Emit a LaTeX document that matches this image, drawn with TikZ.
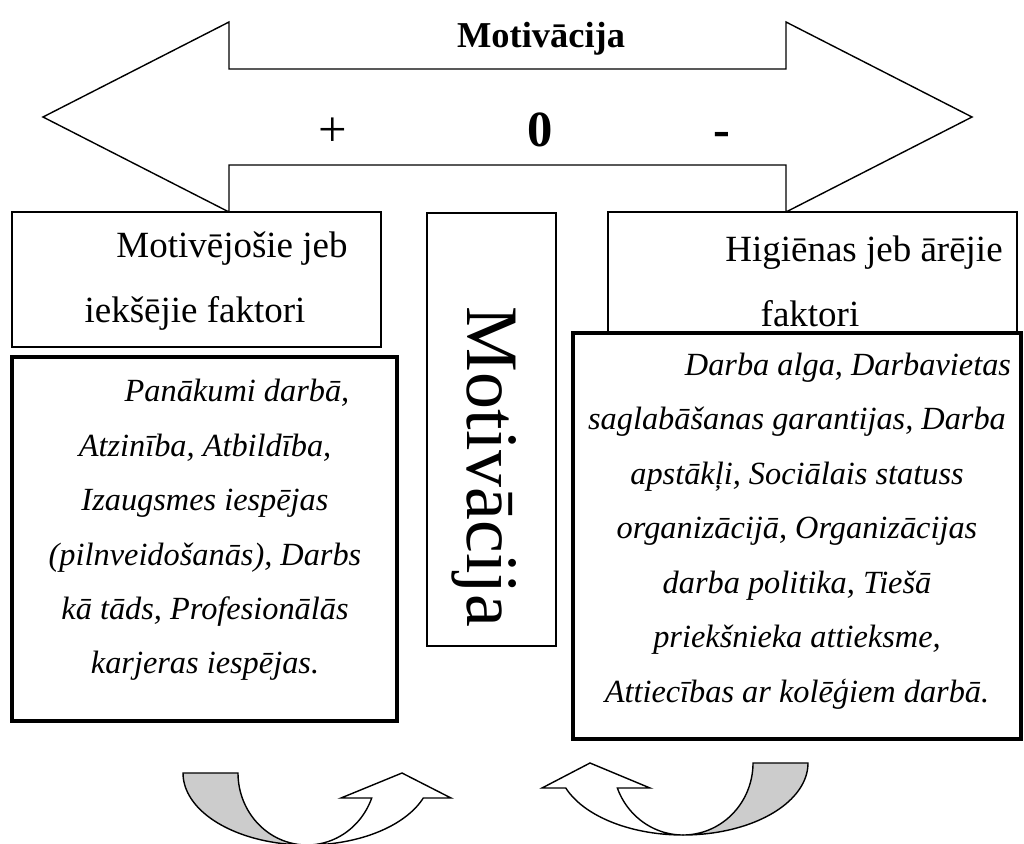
\documentclass[tikz,border=0pt]{standalone}
\usepackage{fontspec}
\setmainfont{Liberation Serif}
\usepackage{xcolor}
\usepackage{tikz}
\definecolor{band}{HTML}{CCCCCC}
\tikzset{
  thinbox/.style={draw, line width=1pt, fill=white},
  thickbox/.style={draw, line width=2.85pt, fill=white},
  blockarrow/.style={draw, line width=1pt, fill=white, line join=miter},
  backband/.style={draw, line width=1pt, fill=band},
  headtext/.style={align=center, font=\fontsize{26.3}{46.2}\selectfont},
  listtext/.style={align=center, font=\fontsize{23}{38.7}\selectfont\itshape},
  signtext/.style={anchor=base, font=\fontsize{36}{40}\selectfont}
}

\begin{document}
\begin{tikzpicture}[x=0.025cm, y=-0.025cm]
  \useasboundingbox (0,0) rectangle (1024,843);
  \draw[blockarrow] (43,117) -- (229,22) -- (229,69) -- (786,69) -- (786,22) -- (972,117)
    -- (786,212) -- (786,165) -- (229,165) -- (229,212) -- cycle;
  \node[anchor=base, font=\fontsize{25.9}{30}\selectfont\bfseries] (title) at (541,47) {Motivācija};
  \node[signtext] (plus) at (333,146) {+};
  \node[signtext, font=\fontsize{36}{40}\selectfont\bfseries] (zero) at (540,146) {0};
  \node[signtext, font=\fontsize{36}{40}\selectfont\bfseries] (minus) at (722,146) {-};

  \draw[thinbox] (12,212) rectangle (381,347);
  \draw[thinbox] (608,212) rectangle (1017,347);
  \draw[thinbox] (427,213) rectangle (556,646);
  \node[headtext] (intrin) at (195,281) {\hspace*{1.85cm}Motivējošie jeb\\iekšējie faktori};
  \node[headtext] (extrin) at (810,281) {\hspace*{2.7cm}Higiēnas jeb ārējie\\faktori};
  \node[anchor=base, rotate=-90, font=\fontsize{52.6}{60}\selectfont] (vert) at (467,467) {Motivācija};

  \draw[thickbox] (12,357) rectangle (397,721);
  \draw[thickbox] (573,333) rectangle (1021,739);
  \node[listtext] (intrinlist) at (205,530) {\hspace*{1.6cm}Panākumi darbā,\\Atzinība, Atbildība,\\Izaugsmes iespējas\\(pilnveidošanās), Darbs\\kā tāds, Profesionālās\\karjeras iespējas.};
  \node[listtext] (extrinlist) at (797,531) {\hspace*{2.55cm}Darba alga, Darbavietas\\saglabāšanas garantijas, Darba\\apstākļi, Sociālais statuss\\organizācijā, Organizācijas\\darba politika, Tiešā\\priekšnieka attieksme,\\Attiecības ar kolēģiem darbā.};

  \draw[backband] plot[domain=180:90, samples=40] ({307+124*cos(\x)},{773+72*sin(\x)})
    -- plot[domain=90:180, samples=40] ({307+69*cos(\x)},{773+72*sin(\x)}) -- cycle;
  \draw[blockarrow] plot[domain=90:20.32, samples=40] ({307+124*cos(\x)},{773+72*sin(\x)})
    -- (451,798) -- (402,773) -- (341,798)
    -- plot[domain=20.32:90, samples=40] ({307+69*cos(\x)},{773+72*sin(\x)}) -- cycle;
  \draw[backband] plot[domain=0:90, samples=40] ({683+125*cos(\x)},{763+72*sin(\x)})
    -- plot[domain=90:0, samples=40] ({683+70*cos(\x)},{763+72*sin(\x)}) -- cycle;
  \draw[blockarrow] plot[domain=90:159.68, samples=40] ({683+125*cos(\x)},{763+72*sin(\x)})
    -- (542,788) -- (590,763) -- (650,788)
    -- plot[domain=159.68:90, samples=40] ({683+70*cos(\x)},{763+72*sin(\x)}) -- cycle;
\end{tikzpicture}
\end{document}
